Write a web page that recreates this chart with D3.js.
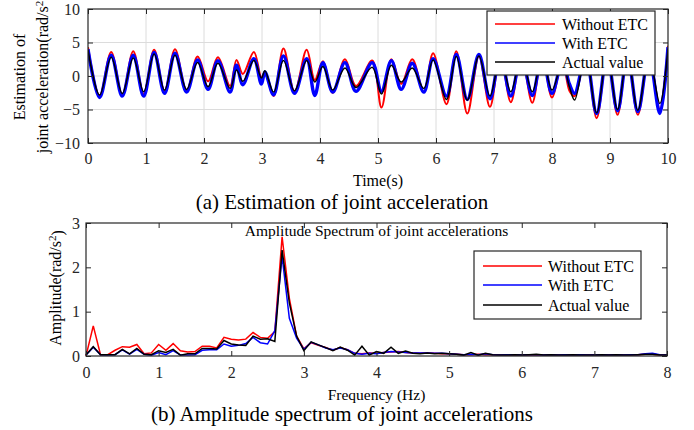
<!DOCTYPE html>
<html>
<head>
<meta charset="utf-8">
<script src="https://cdn.jsdelivr.net/npm/d3@7"></script>
<style>
  body { margin: 0; background: #fff; }
  svg { display: block; font-family: "Liberation Serif", "Times New Roman", serif; }
</style>
</head>
<body>
<div id="content"></div>
<script>
//-- (a) time domain, key points (extrema)
const timeKeys = [0.0, 0.2, 0.4, 0.59, 0.78, 0.96, 1.14, 1.32, 1.5, 1.7, 1.89, 2.07, 2.24, 2.45, 2.56, 2.67, 2.86, 2.99, 3.05, 3.2,
  3.37, 3.56, 3.77, 3.91, 4.05, 4.22, 4.43, 4.62, 4.9, 5.06, 5.23, 5.4, 5.59, 5.79, 5.95, 6.18, 6.35, 6.54, 6.74, 6.93,
  7.11, 7.29, 7.47, 7.66, 7.83, 8.0, 8.18, 8.3, 8.39, 8.58, 8.77, 8.95, 9.13, 9.3, 9.48, 9.67, 9.86, 10.0];
const actualValue = [3.9, -2.85, 2.8, -2.6, 2.7, -2.35, 3.3, -2.1, 3.1, -2.0, 2.0, -1.6, 1.9, -1.85, 0.9, -0.8, 2.3, -0.3, 0.8, -2.4,
  2.3, -2.2, 2.3, -0.9, 1.4, -2.1, 1.2, -1.7, 1.3, -2.7, 1.6, -0.9, 1.2, -1.85, 2.4, -3.5, 2.9, -3.6, 3.0, -3.0,
  2.8, -2.35, 2.8, -2.35, 2.8, -2.1, 2.0, -1.6, -3.6, 3.0, -5.5, 3.0, -5.0, 3.0, -5.1, 3.0, -4.1, 4.1];
const withoutEtc = [4.3, -3.0, 3.6, -2.9, 3.7, -2.7, 3.9, -2.3, 4.0, -2.2, 2.9, -0.8, 2.8, -1.5, 2.4, 0.3, 3.6, -0.2, 0.5, -3.0,
  4.1, -2.4, 3.9, -0.6, 2.2, -2.5, 2.5, -1.5, 2.3, -4.7, 2.5, -1.2, 2.5, -2.4, 3.4, -4.2, 3.7, -5.6, 3.0, -4.6,
  3.2, -3.9, 3.2, -4.0, 3.2, -3.2, 2.4, -2.2, -3.0, 3.2, -6.3, 3.2, -5.8, 3.2, -5.8, 3.2, -5.0, 4.5];
const withEtc = [4.0, -3.2, 3.1, -3.0, 3.1, -3.0, 3.5, -2.6, 3.4, -2.4, 2.4, -2.0, 2.3, -2.4, 1.6, -1.3, 2.6, -1.2, 0.6, -2.8,
  3.0, -2.6, 2.6, -2.9, 2.0, -2.4, 2.0, -2.3, 2.0, -2.3, 2.3, -2.0, 1.9, -2.4, 2.6, -3.0, 3.2, -3.5, 3.2, -3.4,
  3.0, -3.0, 3.0, -2.9, 3.0, -2.6, 2.2, -1.2, -2.6, 3.0, -5.6, 3.0, -5.2, 3.0, -5.3, 3.0, -5.6, 4.3];

//-- (b) amplitude spectrum
const freqHz = [0.0, 0.1, 0.2, 0.3, 0.4, 0.5, 0.6, 0.7, 0.8, 0.9, 1.0, 1.1, 1.2, 1.3, 1.4, 1.5, 1.6, 1.7, 1.8, 1.9,
  2.0, 2.1, 2.2, 2.3, 2.4, 2.5, 2.6, 2.7, 2.8, 2.9, 3.0, 3.1, 3.2, 3.3, 3.4, 3.5, 3.6, 3.7, 3.8, 3.9,
  4.0, 4.1, 4.2, 4.3, 4.4, 4.5, 4.6, 4.7, 4.8, 4.9, 5.0, 5.1, 5.2, 5.3, 5.4, 5.5, 5.6, 5.7, 5.8, 5.9,
  6.0, 6.1, 6.2, 6.3, 6.4, 6.5, 6.6, 6.7, 6.8, 6.9, 7.0, 7.1, 7.2, 7.3, 7.4, 7.5, 7.6, 7.7, 7.8, 7.9, 8.0];
const specWithout = [0.00, 0.68, 0.03, 0.03, 0.13, 0.21, 0.20, 0.26, 0.05, 0.07, 0.26, 0.13, 0.28, 0.12, 0.09, 0.10, 0.22, 0.22, 0.18, 0.42,
  0.38, 0.36, 0.38, 0.53, 0.42, 0.40, 0.55, 2.69, 1.30, 0.45, 0.16, 0.30, 0.24, 0.19, 0.13, 0.19, 0.14, 0.06, 0.05, 0.07,
  0.06, 0.08, 0.09, 0.10, 0.08, 0.07, 0.06, 0.07, 0.06, 0.05, 0.05, 0.04, 0.03, 0.03, 0.04, 0.03, 0.03, 0.02, 0.02, 0.03,
  0.02, 0.03, 0.02, 0.02, 0.03, 0.02, 0.02, 0.02, 0.03, 0.02, 0.02, 0.02, 0.03, 0.02, 0.02, 0.02, 0.03, 0.04, 0.04, 0.02, 0.02];
const specWith = [0.02, 0.20, 0.03, 0.02, 0.03, 0.14, 0.04, 0.15, 0.04, 0.02, 0.08, 0.03, 0.12, 0.02, 0.02, 0.03, 0.13, 0.14, 0.14, 0.27,
  0.22, 0.24, 0.28, 0.42, 0.30, 0.27, 0.57, 2.25, 0.85, 0.40, 0.15, 0.31, 0.25, 0.18, 0.14, 0.18, 0.14, 0.06, 0.04, 0.06,
  0.05, 0.08, 0.10, 0.09, 0.08, 0.07, 0.07, 0.07, 0.06, 0.06, 0.05, 0.04, 0.03, 0.04, 0.03, 0.05, 0.03, 0.02, 0.03, 0.03,
  0.02, 0.03, 0.03, 0.02, 0.03, 0.02, 0.03, 0.02, 0.03, 0.02, 0.02, 0.03, 0.02, 0.03, 0.02, 0.03, 0.03, 0.05, 0.06, 0.03, 0.02];
const specActual = [0.02, 0.21, 0.03, 0.03, 0.03, 0.15, 0.05, 0.17, 0.04, 0.03, 0.12, 0.08, 0.15, 0.02, 0.05, 0.05, 0.17, 0.17, 0.16, 0.35,
  0.27, 0.25, 0.24, 0.45, 0.38, 0.39, 0.33, 2.39, 1.20, 0.45, 0.12, 0.32, 0.25, 0.19, 0.12, 0.20, 0.13, 0.02, 0.22, 0.02,
  0.10, 0.06, 0.20, 0.06, 0.11, 0.06, 0.05, 0.07, 0.05, 0.06, 0.05, 0.04, 0.02, 0.08, 0.02, 0.06, 0.03, 0.02, 0.02, 0.03,
  0.02, 0.03, 0.04, 0.02, 0.03, 0.02, 0.02, 0.03, 0.02, 0.02, 0.02, 0.03, 0.02, 0.03, 0.02, 0.02, 0.03, 0.04, 0.04, 0.02, 0.02];

const seriesNames = ["Without ETC", "With ETC", "Actual value"];
const seriesColors = ["#ff0000", "#0000ff", "#000000"];
const timeTicks = [0, 1, 2, 3, 4, 5, 6, 7, 8, 9, 10];
const accTicks = [-10, -5, 0, 5, 10];
const freqTicks = [0, 1, 2, 3, 4, 5, 6, 7, 8];
const ampTicks = [0, 1, 2, 3];

//-- dimensions
const width = 694;
const height = 430;
const boxA = { left: 88, right: 668, top: 9, bottom: 143 };
const boxB = { left: 86, right: 667, top: 223, bottom: 356 };
const axisColor = "#262626";

const svg = d3.select("#content").append("svg")
  .attr("width", width)
  .attr("height", height);

//-- inward ticks on all four sides, labels only on left/bottom
function drawFrame(g, box, x, y, xTicks, yTicks, xPad, yPad) {
  const axes = [
    [d3.axisBottom(x).tickValues(xTicks), `translate(0,${box.bottom})`, true, xPad],
    [d3.axisTop(x).tickValues(xTicks), `translate(0,${box.top})`, false, 0],
    [d3.axisLeft(y).tickValues(yTicks), `translate(${box.left},0)`, true, yPad],
    [d3.axisRight(y).tickValues(yTicks), `translate(${box.right},0)`, false, 0]
  ];
  axes.forEach(([ax, tr, labels, pad]) => {
    const a = g.append("g").attr("transform", tr)
      .call(ax.tickSize(-5).tickPadding(pad).tickFormat(labels ? d3.format("d") : ""));
    a.select(".domain").remove();
    a.selectAll(".tick line").attr("stroke", axisColor);
    a.selectAll(".tick text")
      .attr("fill", "#262626")
      .style("font-size", "16px")
      .style("font-family", "Liberation Serif, serif");
  });
  g.append("rect")
    .attr("x", box.left).attr("y", box.top)
    .attr("width", box.right - box.left).attr("height", box.bottom - box.top)
    .attr("fill", "none").attr("stroke", axisColor).attr("stroke-width", 1.2);
}

function drawLegend(g, x0, y0, w, h, rows, lineX1, lineX2, textX) {
  g.append("rect")
    .attr("x", x0).attr("y", y0).attr("width", w).attr("height", h)
    .attr("fill", "#fff").attr("stroke", axisColor).attr("stroke-width", 1.2);
  seriesNames.forEach((name, i) => {
    g.append("line")
      .attr("x1", lineX1).attr("x2", lineX2).attr("y1", rows[i]).attr("y2", rows[i])
      .attr("stroke", seriesColors[i]).attr("stroke-width", 1.4);
    g.append("text")
      .attr("x", textX).attr("y", rows[i]).attr("dy", "0.35em")
      .style("font-size", "16px").attr("fill", "#000")
      .text(name);
  });
}

//-- (a) Estimation of joint acceleration
{
  const x = d3.scaleLinear().domain([0, 10]).range([boxA.left, boxA.right]);
  const y = d3.scaleLinear().domain([-10, 10]).range([boxA.bottom, boxA.top]);
  const g = svg.append("g");

  g.append("defs").append("clipPath").attr("id", "clipA")
    .append("rect").attr("x", boxA.left).attr("y", boxA.top)
    .attr("width", boxA.right - boxA.left).attr("height", boxA.bottom - boxA.top);

  //-- grid
  g.append("g").selectAll("line").data(timeTicks.slice(1, -1)).join("line")
    .attr("x1", (d) => x(d)).attr("x2", (d) => x(d))
    .attr("y1", boxA.top).attr("y2", boxA.bottom)
    .attr("stroke", "#dcdcdc");
  g.append("g").selectAll("line").data(accTicks.slice(1, -1)).join("line")
    .attr("x1", boxA.left).attr("x2", boxA.right)
    .attr("y1", (d) => y(d)).attr("y2", (d) => y(d))
    .attr("stroke", "#dcdcdc");

  const line = d3.line()
    .x((d) => x(d[0]))
    .y((d) => y(d[1]))
    .curve(d3.curveCatmullRom.alpha(0.5));
  const series = [withoutEtc, withEtc, actualValue];
  const widths = [2, 3.4, 1.5];
  const lines = g.append("g").attr("clip-path", "url(#clipA)");
  series.forEach((vals, i) => {
    lines.append("path")
      .datum(timeKeys.map((t, k) => [t, vals[k]]))
      .attr("d", line)
      .attr("fill", "none")
      .attr("stroke", seriesColors[i])
      .attr("stroke-width", widths[i]);
  });

  drawFrame(g, boxA, x, y, timeTicks, accTicks, 10, 8);
  drawLegend(g, 487, 11, 168, 64, [24, 43, 62], 495, 555, 562);

  g.append("text")
    .attr("x", (boxA.left + boxA.right) / 2).attr("y", 186)
    .attr("text-anchor", "middle").style("font-size", "16px")
    .text("Time(s)");
  g.append("text")
    .attr("x", 342).attr("y", 209)
    .attr("text-anchor", "middle").style("font-size", "21px")
    .text("(a) Estimation of joint acceleration");

  const yl = g.append("text")
    .attr("transform", "translate(0,77) rotate(-90)")
    .attr("text-anchor", "middle").style("font-size", "16px");
  yl.append("tspan").attr("x", 0).attr("y", 25).text("Estimation of");
  yl.append("tspan").attr("x", 0).attr("y", 48).text("joint acceleration(rad/s");
  yl.append("tspan").attr("dy", "-0.45em").style("font-size", "11px").text("2");
}

//-- (b) Amplitude spectrum of joint accelerations
{
  const x = d3.scaleLinear().domain([0, 8]).range([boxB.left, boxB.right]);
  const y = d3.scaleLinear().domain([0, 3]).range([boxB.bottom, boxB.top]);
  const g = svg.append("g");

  const line = d3.line()
    .x((d) => x(d[0]))
    .y((d) => y(d[1]));
  const series = [specWithout, specWith, specActual];
  series.forEach((vals, i) => {
    g.append("path")
      .datum(freqHz.map((f, k) => [f, vals[k]]))
      .attr("d", line)
      .attr("fill", "none")
      .attr("stroke", seriesColors[i])
      .attr("stroke-width", 1.5);
  });

  drawFrame(g, boxB, x, y, freqTicks, ampTicks, 11, 6);
  drawLegend(g, 474, 251, 167, 68, [266, 285, 305], 483, 542, 548);

  g.append("text")
    .attr("x", (boxB.left + boxB.right) / 2).attr("y", 236)
    .attr("text-anchor", "middle").style("font-size", "15.5px")
    .text("Amplitude Spectrum of joint accelerations");
  g.append("text")
    .attr("x", (boxB.left + boxB.right) / 2).attr("y", 400)
    .attr("text-anchor", "middle").style("font-size", "15.5px")
    .text("Frequency (Hz)");
  g.append("text")
    .attr("x", 342).attr("y", 421)
    .attr("text-anchor", "middle").style("font-size", "21px")
    .text("(b) Amplitude spectrum of joint accelerations");

  const yl = g.append("text")
    .attr("transform", "translate(61,288) rotate(-90)")
    .attr("text-anchor", "middle").style("font-size", "16px");
  yl.append("tspan").text("Amplitude(rad/s");
  yl.append("tspan").attr("dy", "-0.45em").style("font-size", "11px").text("2");
  yl.append("tspan").attr("dy", "0.45em").text(")");
}
</script>
</body>
</html>
